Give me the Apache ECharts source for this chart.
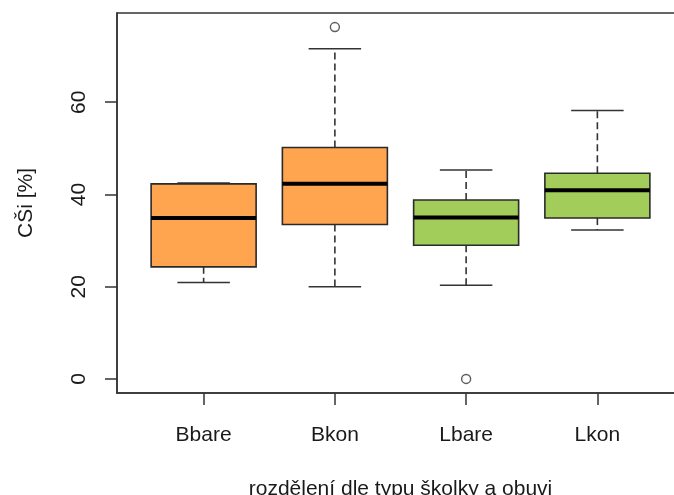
<!DOCTYPE html>
<html>
<head>
<meta charset="utf-8">
<script src="https://cdn.jsdelivr.net/npm/echarts@6/dist/echarts.min.js"></script>
<style>
  html, body { margin: 0; padding: 0; background: #fff; }
  #chart { width: 674px; height: 495px; }
</style>
</head>
<body>
<div id="chart"></div>
<script>
// Groups: kindergarten type (B / L) x footwear (bare / kon)
const categories = ['Bbare', 'Bkon', 'Lbare', 'Lkon'];
const whiskerLow  = [20.9, 20.0, 20.3, 32.3];
const quartile1   = [24.3, 33.5, 29.0, 34.9];
const medians     = [34.9, 42.3, 35.0, 40.9];
const quartile3   = [42.3, 50.2, 38.8, 44.6];
const whiskerHigh = [42.5, 71.6, 45.3, 58.2];
// Outliers as [group index (1-based), value]
const outliers = [[2, 76.3], [3, 0]];
const fillColors = ['#FFA54F', '#FFA54F', '#A2CD5A', '#A2CD5A'];
const yTicks = [0, 20, 40, 60];
const xTicks = [1, 2, 3, 4];

const yTitle = 'CŠi [%]';
const xTitle = 'rozdělení dle typu školky a obuvi';

const FONT = '"Liberation Sans", Arial, Helvetica, sans-serif';
const TXT = '#1a1a1a';

const boxData = categories.map((c, i) => [i + 1, whiskerLow[i], quartile1[i], medians[i], quartile3[i], whiskerHigh[i]]);

const BOX_W = 0.8;   // box width in x units
const CAP_W = 0.4;   // whisker cap width in x units

function renderBox(params, api) {
  const x = api.value(0);
  const lo = api.value(1), q1 = api.value(2), md = api.value(3), q3 = api.value(4), hi = api.value(5);
  const pLo = api.coord([x, lo]);
  const pQ1 = api.coord([x, q1]);
  const pMd = api.coord([x, md]);
  const pQ3 = api.coord([x, q3]);
  const pHi = api.coord([x, hi]);
  const left = api.coord([x - BOX_W / 2, md])[0];
  const right = api.coord([x + BOX_W / 2, md])[0];
  const capL = api.coord([x - CAP_W / 2, md])[0];
  const capR = api.coord([x + CAP_W / 2, md])[0];
  const cx = pMd[0];
  const whisk = { stroke: '#333', lineWidth: 1.6, lineDash: [7, 4] };
  const cap = { stroke: '#333', lineWidth: 1.6 };
  return {
    type: 'group',
    children: [
      { type: 'line', shape: { x1: cx, y1: pQ1[1], x2: cx, y2: pLo[1] }, style: whisk },
      { type: 'line', shape: { x1: cx, y1: pQ3[1], x2: cx, y2: pHi[1] }, style: whisk },
      { type: 'line', shape: { x1: capL, y1: pLo[1], x2: capR, y2: pLo[1] }, style: cap },
      { type: 'line', shape: { x1: capL, y1: pHi[1], x2: capR, y2: pHi[1] }, style: cap },
      { type: 'rect', shape: { x: left, y: pQ3[1], width: right - left, height: pQ1[1] - pQ3[1] },
        style: { fill: fillColors[params.dataIndex], stroke: '#2a2a2a', lineWidth: 1.6 } },
      { type: 'line', shape: { x1: left, y1: pMd[1], x2: right, y2: pMd[1] }, style: { stroke: '#000', lineWidth: 4 } }
    ]
  };
}

const chart = echarts.init(document.getElementById('chart'), null, { renderer: 'canvas' });
chart.setOption({
  backgroundColor: '#fff',
  animation: false,
  grid: {
    left: 117, top: 13, width: 567, height: 380,
    outerBoundsMode: 'none', containLabel: false,
    show: true, borderColor: '#333', borderWidth: 1.5, backgroundColor: 'transparent'
  },
  xAxis: {
    type: 'value', min: 0.34, max: 4.66,
    splitLine: { show: false },
    axisLine: { show: true, onZero: false, lineStyle: { color: '#333', width: 1.5 } },
    axisTick: { show: true, inside: false, customValues: xTicks, length: 12, lineStyle: { color: '#333', width: 1.5 } },
    axisLabel: {
      customValues: xTicks, margin: 32, fontSize: 21, fontFamily: FONT, color: TXT,
      formatter: v => categories[Math.round(v) - 1] || ''
    },
    name: xTitle, nameLocation: 'middle', nameGap: 86,
    nameTextStyle: { fontSize: 21, fontFamily: FONT, color: TXT }
  },
  yAxis: {
    type: 'value', min: -3.05, max: 79.35,
    splitLine: { show: false },
    axisLine: { show: true, onZero: false, lineStyle: { color: '#333', width: 1.5 } },
    axisTick: { show: true, inside: false, customValues: yTicks, length: 12, lineStyle: { color: '#333', width: 1.5 } },
    axisLabel: {
      customValues: yTicks, rotate: 90, margin: 27, fontSize: 21, fontFamily: FONT, color: TXT
    },
    name: yTitle, nameLocation: 'middle', nameGap: 80, nameRotate: 90,
    nameTextStyle: { fontSize: 21, fontFamily: FONT, color: TXT }
  },
  series: [
    {
      type: 'custom',
      renderItem: renderBox,
      data: boxData,
      encode: { x: 0, y: [1, 2, 3, 4, 5] },
      clip: false,
      silent: true
    },
    {
      type: 'scatter',
      data: outliers,
      symbol: 'circle',
      symbolSize: 9,
      itemStyle: { color: '#fff', borderColor: '#333', borderWidth: 1.4 },
      silent: true
    }
  ]
});
</script>
</body>
</html>
